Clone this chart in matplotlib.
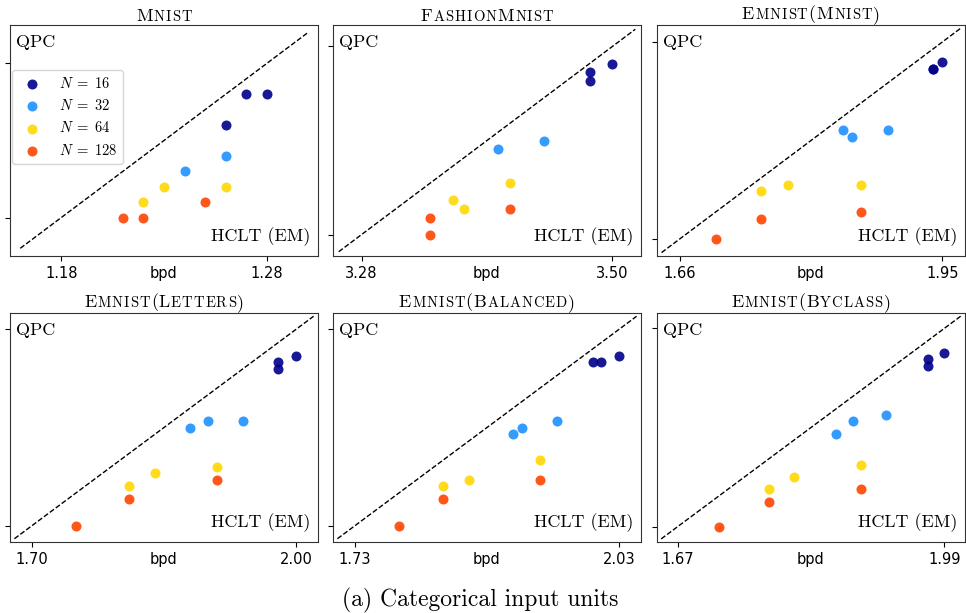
import matplotlib
matplotlib.use("Agg")
import matplotlib.pyplot as plt
from matplotlib.offsetbox import TextArea, HPacker, AnchoredOffsetbox

plt.rcParams["mathtext.fontset"] = "cm"
plt.rcParams["axes.unicode_minus"] = False

SERIF = "cmr10"
SANS = "DejaVu Sans"

# bits per dimension, HCLT (EM) on x, QPC on y, lists ordered by N
n_values = [16, 32, 64, 128]
colors = ["darkblue", "dodgerblue", "gold", "orangered"]

titles = ["Mnist", "FashionMnist", "Emnist(Mnist)",
          "Emnist(Letters)", "Emnist(Balanced)", "Emnist(Byclass)"]

mnist_hclt = [[1.27, 1.28, 1.26], [1.26, 1.24], [1.23, 1.22, 1.26], [1.21, 1.22, 1.25]]
mnist_qpc = [[1.26, 1.26, 1.24], [1.22, 1.21], [1.20, 1.19, 1.20], [1.18, 1.18, 1.19]]
mnist_ticks = [1.18, 1.28]

fashion_hclt = [[3.50, 3.48, 3.48], [3.40, 3.44], [3.41, 3.36, 3.37], [3.41, 3.34, 3.34]]
fashion_qpc = [[3.48, 3.47, 3.46], [3.38, 3.39], [3.34, 3.32, 3.31], [3.31, 3.30, 3.28]]
fashion_ticks = [3.28, 3.50]

em_mnist_hclt = [[1.95, 1.94, 1.94], [1.84, 1.85, 1.89], [1.75, 1.78, 1.86], [1.70, 1.75, 1.86]]
em_mnist_qpc = [[1.92, 1.91, 1.91], [1.82, 1.81, 1.82], [1.73, 1.74, 1.74], [1.66, 1.69, 1.70]]
em_mnist_ticks = [1.66, 1.95]

letters_hclt = [[2.00, 1.98, 1.98], [1.88, 1.90, 1.94], [1.81, 1.84, 1.91], [1.75, 1.81, 1.91]]
letters_qpc = [[1.96, 1.95, 1.94], [1.85, 1.86, 1.86], [1.76, 1.78, 1.79], [1.70, 1.74, 1.77]]
letters_ticks = [1.70, 2.00]

balanced_hclt = [[2.03, 2.01, 2.00], [1.91, 1.92, 1.96], [1.83, 1.86, 1.94], [1.78, 1.83, 1.94]]
balanced_qpc = [[1.99, 1.98, 1.98], [1.87, 1.88, 1.89], [1.79, 1.80, 1.83], [1.73, 1.77, 1.80]]
balanced_ticks = [1.73, 2.03]

byclass_hclt = [[1.99, 1.97, 1.97], [1.86, 1.88, 1.92], [1.78, 1.81, 1.89], [1.72, 1.78, 1.89]]
byclass_qpc = [[1.95, 1.94, 1.93], [1.82, 1.84, 1.85], [1.73, 1.75, 1.77], [1.67, 1.71, 1.73]]
byclass_ticks = [1.67, 1.99]

panels = [
    (mnist_hclt, mnist_qpc, mnist_ticks),
    (fashion_hclt, fashion_qpc, fashion_ticks),
    (em_mnist_hclt, em_mnist_qpc, em_mnist_ticks),
    (letters_hclt, letters_qpc, letters_ticks),
    (balanced_hclt, balanced_qpc, balanced_ticks),
    (byclass_hclt, byclass_qpc, byclass_ticks),
]


def smallcaps_title(ax, text, big=13, small=10.5):
    # fake LaTeX \textsc: capitals full size, lower case as small capitals
    boxes = []
    for ch in text:
        size = small if ch.islower() else big
        boxes.append(TextArea(ch.upper(), textprops=dict(fontsize=size, family=SERIF)))
    pack = HPacker(children=boxes, align="baseline", pad=0, sep=0.7)
    anch = AnchoredOffsetbox(loc="lower center", child=pack, pad=0, borderpad=0,
                             frameon=False, bbox_to_anchor=(0.5, 1.004),
                             bbox_transform=ax.transAxes)
    ax.add_artist(anch)


W, H = 966, 613
fig = plt.figure(figsize=(W / 100, H / 100), dpi=100)

lefts = [10, 333, 657]
rows = [(25, 256), (313, 542)]

for i, (hclt, qpc, ticks) in enumerate(panels):
    top, bottom = rows[i // 3]
    left = lefts[i % 3]
    ax = fig.add_axes([left / W, 1 - bottom / H, 308 / W, (bottom - top) / H])

    lo, hi = ticks
    ax.plot([lo - 0.02, hi + 0.02], [lo - 0.02, hi + 0.02], "--", color="black",
            linewidth=1.0, zorder=1)
    for n, xs, ys, c in zip(n_values, hclt, qpc, colors):
        ax.scatter(xs, ys, s=52, color=c, alpha=0.9, linewidths=0,
                   label=rf"$N\;=\;{n}$", zorder=2)

    ax.set_xlim(lo - 0.025, hi + 0.025)
    ax.set_ylim(lo - 0.025, hi + 0.025)
    ax.set_xticks(ticks)
    ax.set_xticklabels([f"{t:.2f}" for t in ticks], fontsize=10.5, family=SANS)
    ax.set_yticks(ticks)
    ax.set_yticklabels([])
    for sp in ax.spines.values():
        sp.set_color("#333333")

    ax.set_xlabel("bpd", fontsize=10.5, family=SANS)
    ax.xaxis.set_label_coords(0.5, -9.7 / (bottom - top))

    ax.text(0.02, 0.957, "QPC", transform=ax.transAxes, ha="left", va="top",
            fontsize=13, family=SERIF)
    ax.text(0.974, 0.066, "HCLT (EM)", transform=ax.transAxes, ha="right",
            va="baseline", fontsize=13, family=SERIF)

    smallcaps_title(ax, titles[i])

    if i == 0:
        ax.legend(loc="upper left", bbox_to_anchor=(2 / 308, 0.805),
                  borderaxespad=0, fontsize=10.5)

fig.text(480 / W, 1 - 606.5 / H, "(a) Categorical input units", ha="center",
         va="baseline", fontsize=17, family=SERIF)

fig.savefig("out.png", dpi=100)
